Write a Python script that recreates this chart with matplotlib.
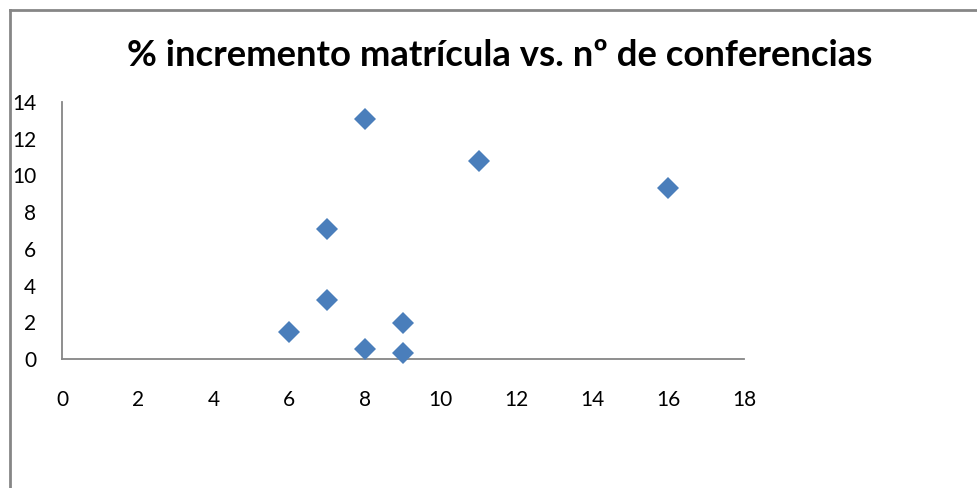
import matplotlib
matplotlib.use("Agg")
import matplotlib.pyplot as plt
from matplotlib.lines import Line2D

title = "% incremento matrícula vs. nº de conferencias"
conferencias = [6, 7, 7, 8, 8, 9, 9, 11, 16]
incremento = [1.45, 3.2, 7.1, 13.05, 0.55, 1.95, 0.3, 10.8, 9.3]
x_ticks = [0, 2, 4, 6, 8, 10, 12, 14, 16, 18]
y_ticks = [0, 2, 4, 6, 8, 10, 12, 14]

plt.rcParams['font.family'] = ['Lato', 'DejaVu Sans']

fig = plt.figure(figsize=(9.78, 4.88), dpi=100)
ax = fig.add_axes([62/978, 1 - 359/488, (744-62)/978, (359-102)/488])

ax.plot(conferencias, incremento, linestyle='none', marker='D', markersize=11.5,
        markerfacecolor='#4A7EBB', markeredgewidth=0, clip_on=False, zorder=3)

ax.set_xlim(0, 18)
ax.set_ylim(0, 14)
ax.set_xticks(x_ticks)
ax.set_yticks(y_ticks)
ax.tick_params(axis='both', length=0, labelsize=15, colors='black')
ax.tick_params(axis='x', pad=22)
ax.tick_params(axis='y', pad=18.5)

for s in ['top', 'right']:
    ax.spines[s].set_visible(False)
for s in ['left', 'bottom']:
    ax.spines[s].set_color('#868686')
    ax.spines[s].set_linewidth(1.3)

fig.text(500/978, 1 - 56/488, title, ha='center', va='center',
         fontsize=26.3, fontweight='bold')

# chart area border (left and top visible)
fig.add_artist(Line2D([9.5/978, 9.5/978], [0, 1 - 9.5/488], transform=fig.transFigure,
                      color='#868686', linewidth=2))
fig.add_artist(Line2D([9.5/978, 1], [1 - 9.5/488, 1 - 9.5/488], transform=fig.transFigure,
                      color='#868686', linewidth=2))

fig.savefig('out.png', dpi=100)
